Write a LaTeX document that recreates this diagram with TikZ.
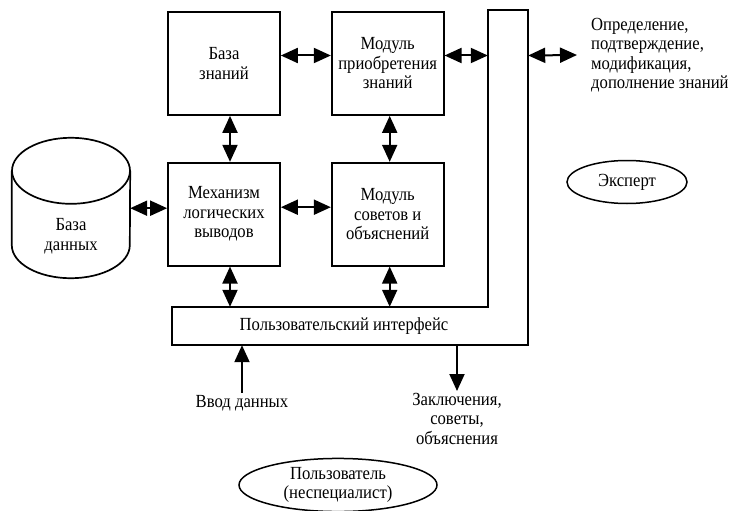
\documentclass[tikz,border=0pt]{standalone}
\usepackage{fontspec}
\setmainfont{Liberation Serif}[FakeStretch=0.9]
\usepackage{tikz}
\usetikzlibrary{shapes,shapes.geometric,arrows.meta,calc,positioning}
\tikzset{
  box/.style={draw, line width=1.7pt, minimum width=112pt, minimum height=103pt, align=center, inner sep=2pt},
  oval/.style={draw, ellipse, line width=1.5pt, align=center, inner sep=1pt},
  txt/.style={align=center, inner sep=2pt},
  arr/.style={line width=2pt, -{Triangle[length=17pt,width=15pt]}},
  dblarr/.style={line width=2pt, {Triangle[length=17pt,width=15pt]}-{Triangle[length=17pt,width=15pt]}}
}
\begin{document}
\begin{tikzpicture}[x=1pt, y=-1pt, font=\fontsize{18.5}{19.5}\selectfont]
  \useasboundingbox (0,0) rectangle (736,511);
  % blocks of the system
  \node[box] (kb) at (224,63.5) {База\\знаний};
  \node[box, right=50pt of kb] (kam) {Модуль\\приобретения\\знаний};
  \node[box, below=46pt of kb] (inf) {Механизм\\логических\\выводов};
  \node[box, below=46pt of kam] (expl) {Модуль\\советов и\\объяснений};
  % data base (cylinder)
  \node[minimum width=118pt, minimum height=140pt, inner sep=0pt] (db) at (71,208) {};
  \draw[line width=1.7pt] ([yshift=-33pt]db.north west) -- ([yshift=33pt]db.south west)
    arc[start angle=180, end angle=360, x radius=59pt, y radius=33pt] -- ([yshift=-33pt]db.north east);
  \draw[line width=1.7pt] ([yshift=-33pt]db.north) ellipse[x radius=59pt, y radius=33pt];
  \node[txt] (dbtxt) at ([yshift=-28pt]db.center) {База\\данных};
  % user interface (L shape)
  \node[minimum width=344pt, minimum height=38pt, inner sep=0pt] (ui) at (344,326) {Пользовательский интерфейс};
  \node[minimum width=40pt, minimum height=335pt, inner sep=0pt] (bar) at (508,177.5) {};
  \draw[line width=1.7pt] (ui.north west) -- (bar.west |- ui.north) -- (bar.north west)
    -- (bar.north east) -- (bar.south east) -- (ui.south west) -- cycle;
  % outside
  \node[txt, anchor=west, align=left] (def) at (589,55) {Определение,\\подтверждение,\\модификация,\\дополнение знаний};
  \node[oval, minimum width=120pt, minimum height=43pt] (exp) at (627,182) {Эксперт};
  \node[txt] (inp) at (242,403) {Ввод данных};
  \node[txt, anchor=north] (out) at (457,391) {Заключения,\\советы,\\объяснения};
  \node[oval, minimum width=198pt, minimum height=52pt] (usr) at (338,485) {Пользователь\\(неспециалист)};
  % connectors
  \draw[dblarr] ([yshift=8pt]kb.east) -- ([yshift=8pt]kam.west);
  \draw[dblarr] ([yshift=8pt]kam.east) -- ([yshift=8pt]kam.east -| bar.west);
  \draw[dblarr] ([yshift=8pt]kam.east -| bar.east) -- ([xshift=-12pt]def.west);
  \draw[dblarr] ([xshift=6pt]kb.south) -- ([xshift=6pt]inf.north);
  \draw[dblarr] ([xshift=2pt]kam.south) -- ([xshift=2pt]expl.north);
  \draw[dblarr] ([yshift=6pt]inf.west -| db.east) -- ([yshift=6pt]inf.west);
  \draw[dblarr] ([yshift=7pt]inf.east) -- ([yshift=7pt]expl.west);
  \draw[dblarr] ([xshift=6pt]inf.south) -- ([xshift=6pt]inf.south |- ui.north);
  \draw[dblarr] ([xshift=2pt]expl.south) -- ([xshift=2pt]expl.south |- ui.north);
  \draw[arr] (inp.north) -- (inp.north |- ui.south);
  \draw[arr] (out.north |- ui.south) -- (out.north);
\end{tikzpicture}
\end{document}
